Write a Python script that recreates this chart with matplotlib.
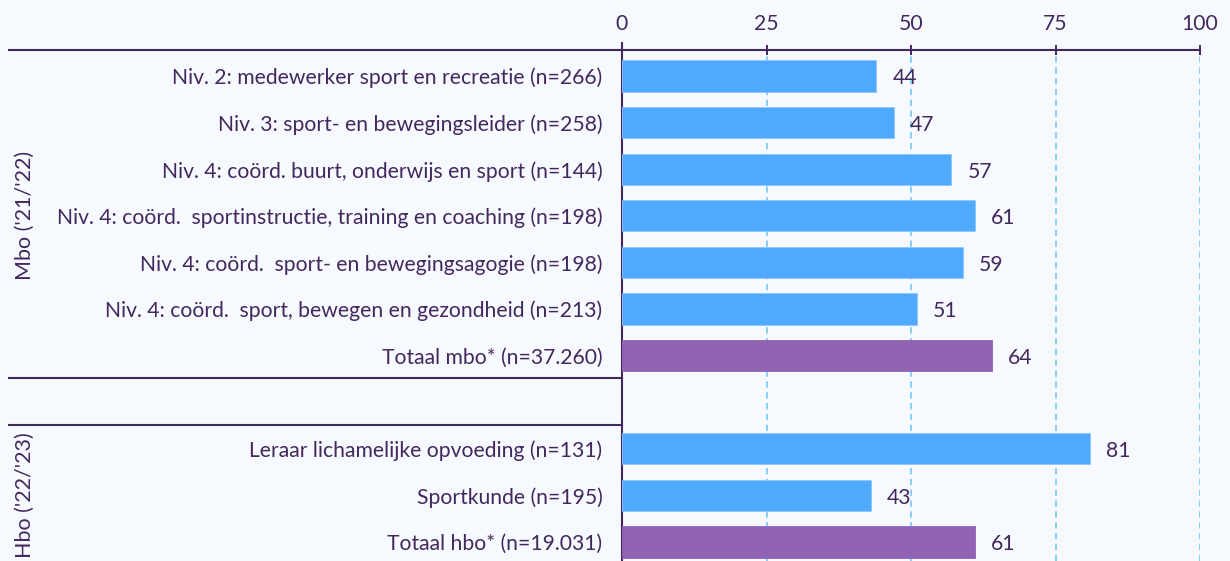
import matplotlib
matplotlib.use("Agg")
import matplotlib.pyplot as plt
import matplotlib.transforms as mtransforms
import numpy as np

# data
mbo_labels = ["Niv. 2: medewerker sport en recreatie (n=266)",
              "Niv. 3: sport- en bewegingsleider (n=258)",
              "Niv. 4: coörd. buurt, onderwijs en sport (n=144)",
              "Niv. 4: coörd.  sportinstructie, training en coaching (n=198)",
              "Niv. 4: coörd.  sport- en bewegingsagogie (n=198)",
              "Niv. 4: coörd.  sport, bewegen en gezondheid (n=213)",
              "Totaal mbo* (n=37.260)"]
mbo_values = [44, 47, 57, 61, 59, 51, 64]
hbo_labels = ["Leraar lichamelijke opvoeding (n=131)",
              "Sportkunde (n=195)",
              "Totaal hbo* (n=19.031)"]
hbo_values = [81, 43, 61]
group_names = ["Mbo ('21/'22)", "Hbo ('22/'23)"]
x_ticks = [0, 25, 50, 75, 100]

BG = "#F6F9FE"
TXT = "#43285E"
BLUE = "#4FA9FF"
PURPLE = "#9163B5"
GRID = "#80CBF6"
FS = 15.2

plt.rcParams['font.family'] = ['Lato', 'DejaVu Sans']

# one empty row between the two groups
labels = mbo_labels + [""] + hbo_labels
values = mbo_values + [np.nan] + hbo_values
ypos = np.arange(len(labels))
colors = [PURPLE if l.startswith("Totaal") else BLUE for l in labels]

fig = plt.figure(figsize=(12.3, 5.61), dpi=100, facecolor=BG)
ax = fig.add_axes([622/1230, 0, 578/1230, 1 - 50/561])
ax.set_facecolor(BG)

for y, v, c in zip(ypos, values, colors):
    if np.isnan(v):
        continue
    ax.barh(y, v, height=0.67, color=c, edgecolor="#8CC6FF" if c == BLUE else c, linewidth=0.6, zorder=3)
    ax.text(v + 2.8, y + 0.05, str(v), va="center", ha="left", fontsize=FS, color=TXT)

ax.set_xlim(0, 100)
ax.set_ylim(10.41, -0.56)
ax.set_yticks(ypos)
ax.set_yticklabels(labels, fontsize=FS, color=TXT)
ax.tick_params(axis="y", length=0, pad=14)

ax.xaxis.tick_top()
ax.set_xticks(x_ticks)
ax.tick_params(axis="x", direction="inout", length=7, width=1.4, color=TXT,
               labelsize=FS, labelcolor=TXT, pad=8)
for t in x_ticks[1:]:
    ax.axvline(t, color=GRID, lw=1.3, ls=(0, (3.5, 2.5)), zorder=1)

for s in ["right", "bottom"]:
    ax.spines[s].set_visible(False)
ax.spines["top"].set_color(TXT)
ax.spines["top"].set_linewidth(1.5)
ax.spines["left"].set_color(TXT)
ax.spines["left"].set_linewidth(1.5)
ax.spines["left"].set_bounds(10.41, -0.7)

# separator lines running out to the left of the plot
trans = mtransforms.blended_transform_factory(fig.transFigure, ax.transData)
for yl in [-0.56, 6.48, 7.49]:
    ax.plot([9/1230, 622/1230], [yl, yl], transform=trans, color=TXT, lw=1.5, clip_on=False)

# rotated group names
ax.text(25/1230, 3.0, group_names[0], transform=trans, rotation=90, ha="center", va="center",
        fontsize=15.5, color=TXT)
ax.text(25/1230, 9.0, group_names[1], transform=trans, rotation=90, ha="center", va="center",
        fontsize=15.5, color=TXT)

fig.savefig("out.png", dpi=100, facecolor=BG)
